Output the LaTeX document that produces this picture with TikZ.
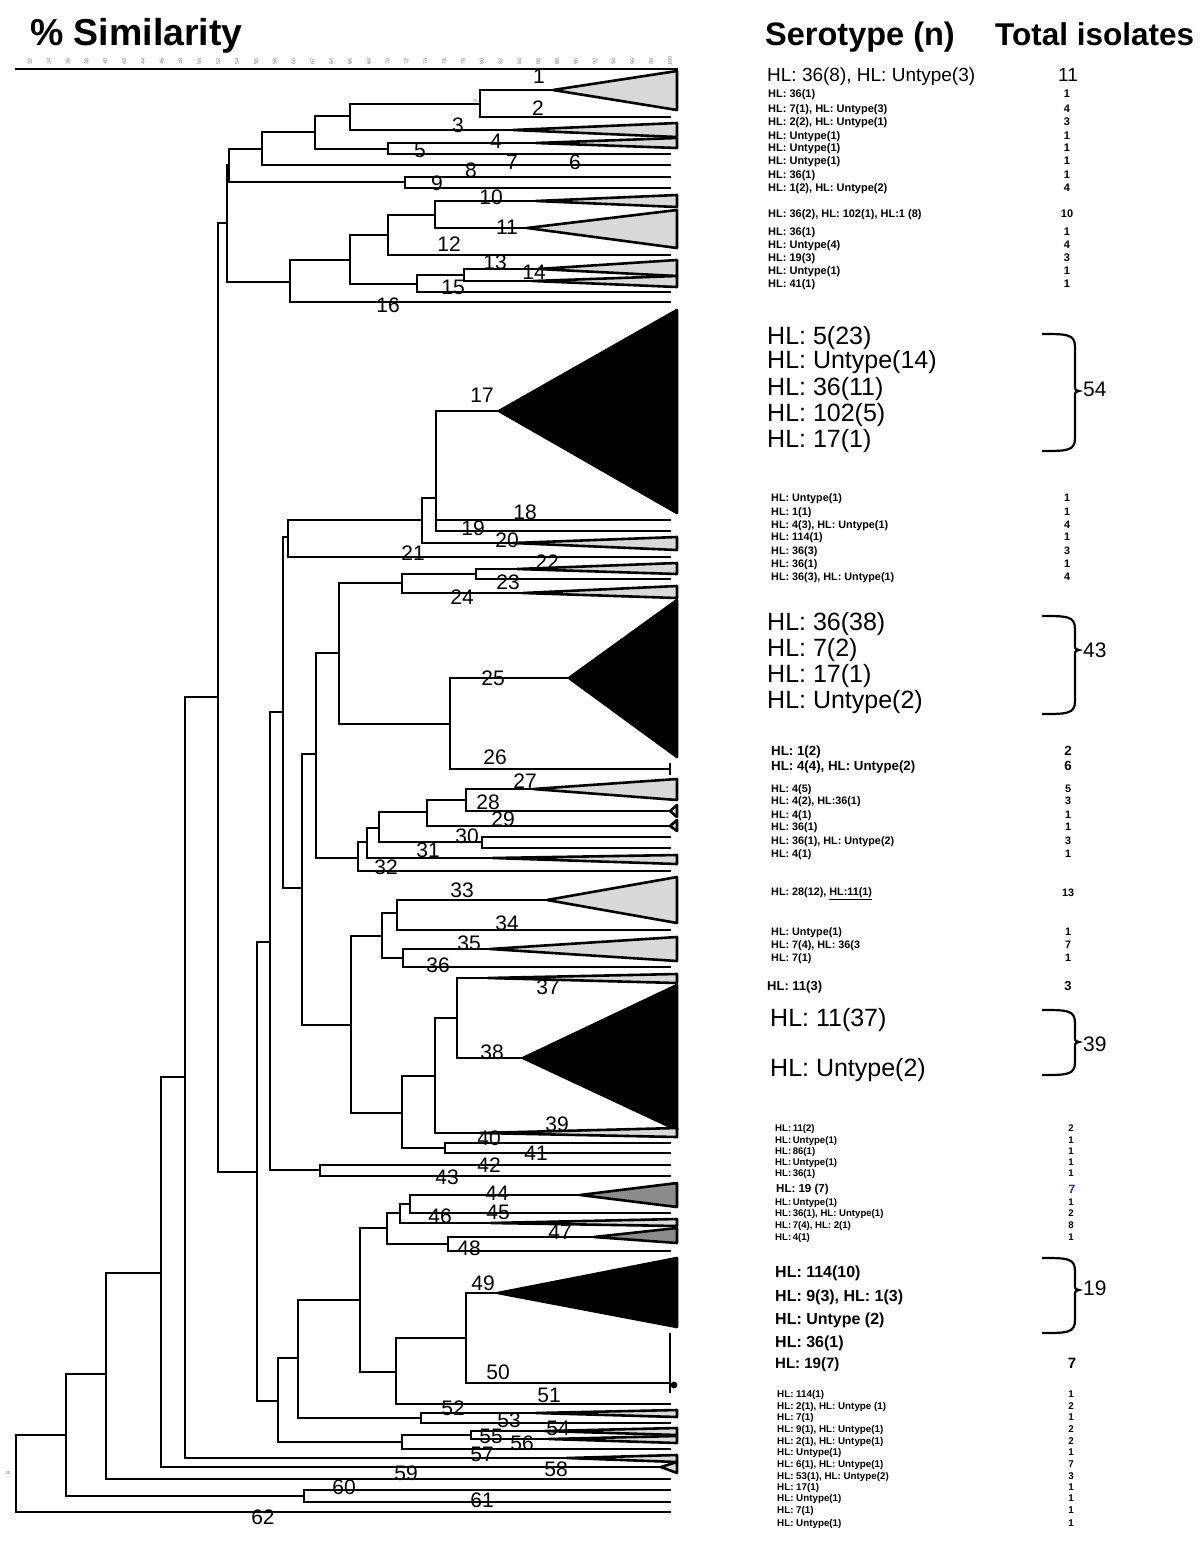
\documentclass[tikz,border=0pt]{standalone}
\usepackage{fontspec}
\setmainfont{Liberation Sans}
\definecolor{cladegray}{RGB}{217,217,217}
\definecolor{cladedark}{RGB}{140,140,140}
\definecolor{navyblue}{RGB}{31,56,100}
\newcommand{\clade}[6][lightclade]{\coordinate (#2) at (#3,#4);\filldraw[#1] (#2) -- (677,#5) -- (677,#6) -- cycle;}
\newcommand{\bracketgrp}[3]{\draw[brk] (1042,#1) .. controls (1067,#1) and (1075,#1) .. (1075,#1+13) -- (1075,#2-6) .. controls (1075,#2-1) .. (1079,#2) .. controls (1075,#2+1) .. (1075,#2+6) -- (1075,#3-13) .. controls (1075,#3) and (1067,#3) .. (1042,#3);}
\begin{document}
\begin{tikzpicture}[x=1pt,y=-1pt,
  branch/.style={line width=2.6pt,line cap=rect},
  lightclade/.style={draw=black,line width=2.6pt,line join=round,fill=cladegray},
  darkclade/.style={draw=black,line width=2.6pt,line join=round,fill=cladedark},
  blackclade/.style={draw=black,line width=2.6pt,line join=round,fill=black},
  lab/.style={font=\fontsize{21}{21}\selectfont,inner sep=0pt},
  tick/.style={font=\fontsize{5.5}{5.5}\selectfont,text=gray,inner sep=0pt,rotate=90},
  tiny/.style={font=\fontsize{4.5}{4.5}\selectfont,text=gray,inner sep=0pt},
  hdr/.style={font=\bfseries\fontsize{33}{33}\selectfont,inner sep=0pt,anchor=base west},
  bigr/.style={inner sep=0pt,font=\fontsize{19}{19}\selectfont,anchor=west},
  grp/.style={inner sep=0pt,font=\fontsize{25}{25}\selectfont,anchor=west},
  grpb/.style={inner sep=0pt,font=\bfseries\fontsize{16}{16}\selectfont,anchor=west},
  sa/.style={inner sep=0pt,font=\bfseries\fontsize{11}{11}\selectfont,anchor=west},
  sb/.style={inner sep=0pt,font=\bfseries\fontsize{10.8}{10.8}\selectfont,anchor=west},
  sc/.style={inner sep=0pt,font=\bfseries\fontsize{13.3}{13.3}\selectfont,anchor=west},
  sd/.style={inner sep=0pt,font=\bfseries\fontsize{9.6}{9.6}\selectfont,anchor=west},
  brk/.style={line width=2.2pt},
  num/.style={inner sep=0pt,anchor=center,execute at begin node={\vphantom{(}}}]
\path[use as bounding box,fill=white] (0,0) rectangle (1200,1545);

% headers
\node[hdr,font=\bfseries\fontsize{37.5}{37.5}\selectfont] (h1) at (30,45) {\% Similarity};
\node[hdr,font=\bfseries\fontsize{32.5}{32.5}\selectfont] (h2) at (765,45) {Serotype (n)};
\node[hdr,font=\bfseries\fontsize{31.5}{31.5}\selectfont] (h3) at (995,45) {Total isolates};

% scale bar
\coordinate (sb0) at (15,69);
\coordinate (sb1) at (678,69);
\draw[line width=2.8pt] (sb0) -- (sb1);
\foreach \v in {32,34,...,100} \node[tick] (tk\v) at ({30+(\v-32)*9.412},61) {\v};

% internal nodes
\coordinate (root) at (16,1473);
\coordinate (n66) at (66,1435);
\coordinate (n304) at (304,1496);
\coordinate (n106) at (106,1374);
\coordinate (n161) at (161,1273);
\coordinate (n185) at (185,1077);
\coordinate (nD) at (218,697);
\coordinate (nC) at (227,223);
\coordinate (nB) at (229,165);
\coordinate (n262) at (262,149);
\coordinate (n315) at (315,132);
\coordinate (n350) at (350,116);
\coordinate (n480) at (480,104);
\coordinate (n388) at (388,149);
\coordinate (n405) at (405,182);
\coordinate (nE) at (290,282);
\coordinate (nF) at (350,260);
\coordinate (nG) at (388,235);
\coordinate (nH) at (435,215);
\coordinate (nI) at (417,284);
\coordinate (nJ) at (464,275);
\coordinate (n257) at (257,1172);
\coordinate (n270) at (270,942);
\coordinate (n320) at (320,1170);
\coordinate (nN) at (283,712);
\coordinate (nM) at (288,537);
\coordinate (nL) at (422,520);
\coordinate (nK) at (436,498);
\coordinate (nT) at (302,888);
\coordinate (nS) at (316,754);
\coordinate (nQ) at (339,653);
\coordinate (nP) at (402,583);
\coordinate (nO) at (476,574);
\coordinate (nR) at (450,724);
\coordinate (nZ) at (358,858);
\coordinate (nY) at (367,842);
\coordinate (nW) at (379,828);
\coordinate (nV) at (427,812);
\coordinate (nU) at (466,800);
\coordinate (nX) at (482,842);
\coordinate (n351) at (351,1025);
\coordinate (n382) at (382,936);
\coordinate (n397) at (397,913);
\coordinate (n403) at (403,958);
\coordinate (n402) at (402,1113);
\coordinate (n435) at (435,1076);
\coordinate (n457) at (457,1018);
\coordinate (n445) at (445,1148);
\coordinate (n278) at (278,1401);
\coordinate (n298) at (298,1358);
\coordinate (n360) at (360,1300);
\coordinate (n387) at (387,1228);
\coordinate (n400) at (400,1213);
\coordinate (n410) at (410,1204);
\coordinate (n448) at (448,1244);
\coordinate (n396) at (396,1372);
\coordinate (n466) at (466,1338);
\coordinate (n421) at (421,1418);
\coordinate (n402b) at (402,1442);
\coordinate (n471) at (471,1435);

% leaves
\foreach \nm/\yy in {l2/117,l5/154,l8/165,l9a/177,l9b/188,l12/255,l15/292,l16/302,l18/520,l19/531,l21/557,l23/579,l26/769,l30a/837,l30b/848,l32/871,l34/930,l36/967,l40/1143,l41/1153,l42/1165,l43/1176,l45/1213,l48/1251,l50/1383,l51/1404,l53/1423,l57/1449,l59/1479,l60/1490,l61/1502,l62/1512}
  \coordinate (\nm) at (670,\yy);

% edges
\foreach \p/\c in {root/n66,root/l62,n66/n106,n66/n304,n304/l60,n304/l61,n106/n161,n106/l59,
  n161/n185,n185/nD,nD/nC,nD/n257,nC/nB,nC/nE,nB/n262,nB/n405,n262/n315,n262/l8,
  n315/n350,n315/n388,n350/n480,n480/l2,n388/l5,n405/l9a,n405/l9b,
  nE/nF,nE/l16,nF/nG,nF/nI,nG/nH,nG/l12,nI/nJ,nI/l15,
  n257/n270,n257/n278,n270/nN,n270/n320,n320/l42,n320/l43,nN/nM,nN/nT,nM/nL,nM/l21,
  nL/nK,nK/l18,nK/l19,nT/nS,nT/n351,nS/nQ,nS/nZ,nQ/nP,nQ/nR,nP/nO,nO/l23,nR/l26,
  nZ/nY,nZ/l32,nY/nW,nW/nV,nW/nX,nV/nU,nX/l30a,nX/l30b,
  n351/n382,n351/n402,n382/n397,n382/n403,n397/l34,n403/l36,n402/n435,n402/n445,
  n435/n457,n445/l40,n445/l41,n278/n298,n278/n402b,n298/n360,n298/n421,n360/n387,n360/n396,
  n387/n400,n387/n448,n400/n410,n410/l45,n448/l48,n396/n466,n396/l51,n466/l50,n421/l53,
  n402b/n471,n402b/l57}
  \draw[branch] (\p) |- (\c);

% collapsed clades
\clade{t1}{553}{90}{71}{110}
\clade{t3}{513}{130}{123}{137}
\clade{t4}{536}{143}{138}{148}
\clade{t10}{536}{201}{195}{207}
\clade{t11}{527}{228}{210}{248}
\clade{t13}{538}{269}{260}{276}
\clade{t14}{533}{281}{276}{287}
\clade[blackclade]{t17}{499}{411}{310}{513}
\clade{t20}{513}{543}{537}{550}
\clade{t22}{517}{569}{563}{574}
\clade{t24}{523}{593}{586}{598}
\clade[blackclade]{t25}{569}{678}{600}{757}
\clade{t27}{533}{789}{779}{800}
\clade{e28}{670}{811}{805}{817}
\clade{e29}{670}{826}{820}{831}
\clade{t31}{493}{858}{855}{864}
\clade{t33}{547}{900}{877}{923}
\clade{t35}{490}{949}{937}{961}
\clade{t37}{488}{978}{974}{983}
\clade[blackclade]{t38}{523}{1058}{985}{1130}
\clade{t39}{480}{1133}{1128}{1137}
\clade[darkclade]{t44}{580}{1195}{1183}{1207}
\clade{t46}{491}{1223}{1219}{1226}
\clade[darkclade]{t47}{594}{1237}{1228}{1243}
\clade[blackclade]{t49}{498}{1293}{1258}{1327}
\clade{t52}{536}{1413}{1410}{1417}
\clade{t54}{545}{1431}{1428}{1435}
\clade{t55}{549}{1439}{1436}{1443}
\clade{t57}{567}{1458}{1455}{1462}
\clade{t58}{661}{1467}{1462}{1473}

\foreach \p/\c in {n161/t58,n185/t57,n350/t3,n480/t1,n388/t4,nH/t10,nH/t11,nJ/t13,nJ/t14,
  nL/t20,nK/t17,nP/t24,nO/t22,nR/t25,nY/t31,nU/t27,nU/e28,nV/e29,n397/t33,n403/t35,
  n435/t39,n457/t37,n457/t38,n400/t46,n410/t44,n448/t47,n466/t49,n421/t52,n471/t54,n471/t55}
  \draw[branch] (\p) |- (\c);

% leaf-end marks
\coordinate (k26a) at (670,763); \coordinate (k26b) at (670,775);
\draw[line width=2.4pt] (k26a) -- (k26b);
\coordinate (k50a) at (670,1333); \coordinate (k50b) at (670,1393);
\draw[line width=2.4pt] (k50a) -- (k50b);
\fill (674,1385) circle (3.4);

% node values (tiny)
\node[tiny] (v75) at (475,101) {75};
\node[tiny] (v30) at (8,1473) {30};

% clade labels
\foreach \t/\xx/\yy in {1/539/76,2/538/108,3/458/125,4/496/141,5/420/150,6/575/162,7/512/162,8/471/170,9/437/183,
  10/491/197,11/507/227,12/449/244,13/495/262,14/534/272,15/453/287,16/388/305,
  17/482/395,18/525/512,19/473/528,20/507/540,21/413/553,22/547/562,23/508/582,24/462/597,
  25/493/678,26/495/757,27/525/781,28/488/802,29/503/819,30/467/836,31/428/850,32/386/867,
  33/462/890,34/507/923,35/469/943,36/438/965,37/548/987,38/492/1052,39/557/1124,40/489/1138,
  41/536/1153,42/489/1165,43/447/1177,44/497/1193,45/498/1212,46/440/1216,47/560/1232,48/469/1248,
  49/483/1283,50/498/1372,51/549/1395,52/453/1408,53/509/1420,54/558/1428,55/491/1436,56/522/1443,
  57/482/1454,58/556/1469,59/406/1473,60/344/1487,61/482/1500,62/263/1517}
  \node[lab] (c\t) at (\xx,\yy) {\t};

% ---------- right column ----------
\node[bigr] (s0) at (767,77) {HL: 36(8), HL: Untype(3)};
\node[num,font=\fontsize{19}{19}\selectfont] (m0) at (1068,77) {11};

\foreach \yy/\tx/\nn [count=\i] in {95/{HL: 36(1)}/1,110/{HL: 7(1), HL: Untype(3)}/4,123/{HL: 2(2), HL: Untype(1)}/3,
  137/{HL: Untype(1)}/1,149/{HL: Untype(1)}/1,162/{HL: Untype(1)}/1,176/{HL: 36(1)}/1,189/{HL: 1(2), HL: Untype(2)}/4,
  215/{HL: 36(2), HL: 102(1), HL:1 (8)}/10,233/{HL: 36(1)}/1,246/{HL: Untype(4)}/4,259/{HL: 19(3)}/3,
  272/{HL: Untype(1)}/1,285/{HL: 41(1)}/1}
  {\node[sa] (sa\i) at (768,\yy) {\tx};
   \node[num,font=\bfseries\fontsize{11}{11}\selectfont] (na\i) at (1067,\yy) {\nn};}

\foreach \yy/\tx/\nn [count=\i] in {499/{HL: Untype(1)}/1,513/{HL: 1(1)}/1,526/{HL: 4(3), HL: Untype(1)}/4,
  538/{HL: 114(1)}/1,552/{HL: 36(3)}/3,565/{HL: 36(1)}/1,578/{HL: 36(3), HL: Untype(1)}/4}
  {\node[sb] (sb\i) at (771,\yy) {\tx};
   \node[num,font=\bfseries\fontsize{10.8}{10.8}\selectfont] (nb\i) at (1067,\yy) {\nn};}

\node[sc] (sc1) at (771,752) {HL: 1(2)};
\node[num,font=\bfseries\fontsize{13.3}{13.3}\selectfont] (nc1) at (1068,752) {2};
\node[sc] (sc2) at (771,767) {HL: 4(4), HL: Untype(2)};
\node[num,font=\bfseries\fontsize{13.3}{13.3}\selectfont] (nc2) at (1068,767) {6};

\foreach \yy/\tx/\nn [count=\i] in {790/{HL: 4(5)}/5,802/{HL: 4(2), HL:36(1)}/3,816/{HL: 4(1)}/1,828/{HL: 36(1)}/1,
  842/{HL: 36(1), HL: Untype(2)}/3,855/{HL: 4(1)}/1,894/{HL: 28(12), \underline{HL:11(1)}}/13,
  933/{HL: Untype(1)}/1,946/{HL: 7(4), HL: 36(3}/7,959/{HL: 7(1)}/1}
  {\node[sb] (sd\i) at (771,\yy) {\tx};
   \node[num,font=\bfseries\fontsize{10.8}{10.8}\selectfont] (nd\i) at (1068,\yy) {\nn};}

\node[sc,font=\bfseries\fontsize{13}{13}\selectfont] (se1) at (767,987) {HL: 11(3)};
\node[num,font=\bfseries\fontsize{13}{13}\selectfont] (ne1) at (1068,987) {3};

\foreach \yy/\tx/\nn [count=\i] in {1129/{HL:\,11(2)}/2,1141/{HL:\,Untype(1)}/1,1152/{HL:\,86(1)}/1,
  1163/{HL:\,Untype(1)}/1,1174/{HL:\,36(1)}/1,1203/{HL:\,Untype(1)}/1,1214/{HL:\,36(1), HL: Untype(1)}/2,
  1226/{HL:\,7(4), HL: 2(1)}/8,1238/{HL:\,4(1)}/1}
  {\node[sd] (sf\i) at (775,\yy) {\tx};
   \node[num,font=\bfseries\fontsize{9.6}{9.6}\selectfont] (nf\i) at (1071,\yy) {\nn};}
\node[sd,font=\bfseries\fontsize{11.5}{11.5}\selectfont] (sg1) at (776,1190) {HL: 19 (7)};
\node[num,font=\bfseries\fontsize{12}{12}\selectfont,text=navyblue] (ng1) at (1072,1190) {7};

\node[sc,font=\bfseries\fontsize{15}{15}\selectfont] (sh1) at (775,1365) {HL: 19(7)};
\node[num,font=\bfseries\fontsize{15}{15}\selectfont] (nh1) at (1072,1365) {7};

\foreach \yy/\tx/\nn [count=\i] in {1395/{HL: 114(1)}/1,1407/{HL: 2(1), HL: Untype (1)}/2,1418/{HL: 7(1)}/1,
  1430/{HL: 9(1), HL: Untype(1)}/2,1442/{HL: 2(1), HL: Untype(1)}/2,1453/{HL: Untype(1)}/1,
  1465/{HL: 6(1), HL: Untype(1)}/7,1477/{HL: 53(1), HL: Untype(2)}/3,1488/{HL: 17(1)}/1,
  1499/{HL: Untype(1)}/1,1511/{HL: 7(1)}/1,1524/{HL: Untype(1)}/1}
  {\node[sd,font=\bfseries\fontsize{9.8}{9.8}\selectfont] (si\i) at (777,\yy) {\tx};
   \node[num,font=\bfseries\fontsize{9.8}{9.8}\selectfont] (ni\i) at (1071,\yy) {\nn};}

% bracketed groups
\foreach \yy/\tx [count=\i] in {338/{HL: 5(23)},362/{HL: Untype(14)},389/{HL: 36(11)},415/{HL: 102(5)},441/{HL: 17(1)}}
  \node[grp] (ga\i) at (767,\yy) {\tx};
\bracketgrp{334}{391}{451}
\node[lab,anchor=west] (gan) at (1083,389) {54};

\foreach \yy/\tx [count=\i] in {624/{HL: 36(38)},650/{HL: 7(2)},676/{HL: 17(1)},702/{HL: Untype(2)}}
  \node[grp] (gb\i) at (767,\yy) {\tx};
\bracketgrp{616}{650}{714}
\node[lab,anchor=west] (gbn) at (1083,650) {43};

\node[grp] (gc1) at (770,1020) {HL: 11(37)};
\node[grp] (gc2) at (770,1070) {HL: Untype(2)};
\bracketgrp{1010}{1042}{1075}
\node[lab,anchor=west] (gcn) at (1083,1044) {39};

\foreach \yy/\tx [count=\i] in {1273/{HL: 114(10)},1297/{HL: 9(3), HL: 1(3)},1320/{HL: Untype (2)},1343/{HL: 36(1)}}
  \node[grpb] (gd\i) at (775,\yy) {\tx};
\bracketgrp{1258}{1290}{1333}
\node[lab,anchor=west] (gdn) at (1083,1288) {19};
\end{tikzpicture}
\end{document}
